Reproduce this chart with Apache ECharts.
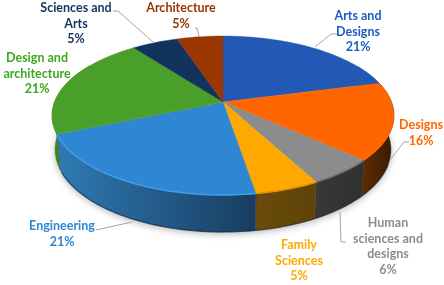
<!DOCTYPE html>
<html><head><meta charset="utf-8">
<style>html,body{margin:0;padding:0;background:#fff}#c{width:444px;height:285px}</style>
<script src="https://cdn.jsdelivr.net/npm/echarts@6/dist/echarts.min.js"></script></head>
<body><div id="c"></div>
<script>
// Data
const categories = ['Arts and\nDesigns','Designs','Human\nsciences and\ndesigns','Family\nSciences','Engineering','Design and\narchitecture','Sciences and\nArts','Architecture'];
const values = [20.9,15.8,5.5,5.2,21.2,21.1,5.2,5.1];

// Styles
const topColors  = ['#2159b5','#ff6600','#8c8c8c','#ffa800','#2f86d2','#4a9e2a','#13335f','#9a3600'];
const textColors = ['#1f5cc0','#ff6600','#8c8c8c','#ffa800','#2f86d2','#3fa61f','#13335f','#9a3600'];
const wallLeft   = ['#1a4590','#5f2c02','#383838','#6a4c0c','#2f7ab4','#3f8a20','#0c2340','#6a2500'];
const wallRight  = ['#1a4590','#3a1a00','#303030','#5e4208','#173d60','#2f6a18','#0c2340','#6a2500'];
const rimColors  = [null,null,'#6b6b6b','#e0960a','#3f9fea',null,null,null];
// Label layout: centre x, centre y of first line, leader polyline
const labelX = [358,421,388,299,62,37,76,181];
const labelY = [16,125,223,245,226,58,8,8];
const leaders = [
  [[337,34],[331,34],[315,47]],
  [[409,142],[404,142],[390,160]],
  [[340,212],[341,242],[346,242]],
  null,
  [[96,230],[132,222]],
  null,
  [[113,11],[118,11],[153,42]],
  [[195,28],[197,28],[199,36]]
];
const LINE_H = 15.7, FONT = 12.5;

// Perspective disc planes
const topPlane = {cx:223, cy:102,   ax:168.5, ay:77.2, k:0.17};
const botPlane = {cx:223, cy:135.6, ax:165.5, ay:80,   k:0.17};
const rad = d => d*Math.PI/180;
function pt(pl, deg){
  const u=Math.sin(rad(deg)), v=Math.cos(rad(deg)), w=1+pl.k*v;
  return [pl.cx+pl.ax*u/w, pl.cy-pl.ay*v/w];
}
function arc(pl,a,b){
  const out=[], n=Math.max(2,Math.ceil(Math.abs(b-a)/1.5));
  for(let i=0;i<=n;i++) out.push(pt(pl,a+(b-a)*i/n));
  return out;
}
const total = values.reduce((s,v)=>s+v,0);
const starts=[]; { let c=0; values.forEach(v=>{starts.push(c/total*360); c+=v;}); }
const angleOf = (i,val)=>[starts[i], starts[i]+val/total*360];
const seriesData = values.map(v=>[v]);

const shadowSeries = {type:'custom',coordinateSystem:'none',silent:true,data:[[1]],z:1,
  renderItem(){ return {type:'polygon',shape:{points:arc(botPlane,0,360)},
    style:{fill:'#fff',shadowBlur:7,shadowColor:'rgba(0,0,0,0.3)',shadowOffsetY:2}}; }};

const wallSeries = {type:'custom',coordinateSystem:'none',silent:true,data:seriesData,z:2,
  renderItem(p,api){
    const i=p.dataIndex; let [a,b]=angleOf(i,api.value(0));
    a=Math.max(a,60); b=Math.min(b,300);
    if(b<=a) return {type:'group',children:[]};
    const t=arc(topPlane,a,b), o=arc(botPlane,a,b).reverse();
    const pts=t.concat(o);
    const xs=pts.map(q=>q[0]), x0=Math.min(...xs), x1=Math.max(...xs);
    return {type:'polygon',shape:{points:pts},style:{
      fill:{type:'linear',x:x0,y:0,x2:x1,y2:0,global:true,colorStops:[
        {offset:0,color:wallLeft[i]},{offset:1,color:wallRight[i]}]},
      stroke:wallRight[i],lineWidth:0.4}};
  }};

const edgeSeries = {type:'custom',coordinateSystem:'none',silent:true,data:[[1]],z:3,
  renderItem(){ return {type:'polyline',shape:{points:arc(botPlane,110,245)},
    style:{stroke:'rgba(8,22,36,0.5)',lineWidth:1.3,fill:'none'}}; }};

const topSeries = {type:'custom',coordinateSystem:'none',silent:true,data:seriesData,z:4,
  renderItem(p,api){
    const i=p.dataIndex, [a,b]=angleOf(i,api.value(0));
    const pts=[[topPlane.cx,topPlane.cy]].concat(arc(topPlane,a,b));
    return {type:'polygon',shape:{points:pts},style:{fill:topColors[i],stroke:topColors[i],lineWidth:0.4}};
  }};

const rimSeries = {type:'custom',coordinateSystem:'none',silent:true,data:seriesData,z:5,
  renderItem(p,api){
    const i=p.dataIndex; if(!rimColors[i]) return {type:'group',children:[]};
    let [a,b]=angleOf(i,api.value(0)); b=Math.min(b,262);
    return {type:'polyline',shape:{points:arc(topPlane,a,b)},
      style:{stroke:rimColors[i],lineWidth:1.5,fill:'none'}};
  }};

const labelSeries = {type:'custom',coordinateSystem:'none',silent:true,data:seriesData,z:6,
  renderItem(p,api){
    const i=p.dataIndex, kids=[];
    if(leaders[i]) kids.push({type:'polyline',shape:{points:leaders[i]},style:{stroke:'#a6a6a6',lineWidth:1,fill:'none'}});
    kids.push({type:'text',style:{x:labelX[i],y:labelY[i]-LINE_H/2,
      text:categories[i]+'\n'+Math.round(api.value(0))+'%',
      fill:textColors[i],font:'700 '+FONT+'px Lato, sans-serif',lineHeight:LINE_H,
      align:'center',verticalAlign:'top'}});
    return {type:'group',children:kids};
  }};

const chart = echarts.init(document.getElementById('c'),null,{renderer:'canvas'});
chart.setOption({animation:false,backgroundColor:'#fff',
  series:[shadowSeries,wallSeries,edgeSeries,topSeries,rimSeries,labelSeries]});
</script></body></html>
